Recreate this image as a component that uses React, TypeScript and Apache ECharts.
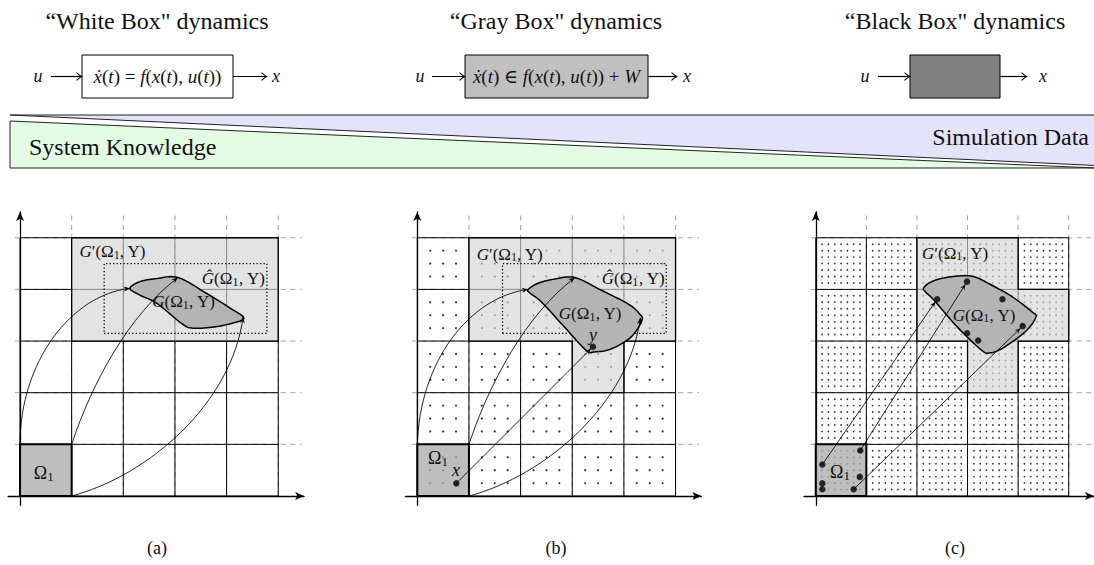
import React, { useEffect, useRef } from 'react';
import * as echarts from 'echarts';

const SERIF = '"Liberation Serif", "DejaVu Serif", serif';

// ---------------- data ----------------
const titles = ['\u201CWhite Box" dynamics', '\u201CGray Box" dynamics', '\u201CBlack Box" dynamics'];
const formulas = [
  '{i|ẋ}({i|t}) = {i|f}({i|x}({i|t}), {i|u}({i|t}))',
  '{i|ẋ}({i|t}) ∈ {i|f}({i|x}({i|t}), {i|u}({i|t})) + {i|W}',
  '',
];
const boxFills = ['#ffffff', '#c0c0c0', '#808080'];
const captions = ['(a)', '(b)', '(c)'];
const bandLabels = ['System Knowledge', 'Simulation Data'];

const gridLineIdx = [0, 1, 2, 3, 4, 5];
const dashLineIdx = [1, 2, 3, 4, 5];
const samplesPerCell = [0, 4, 8];

const gPrimeRegions = [
  [[1, 3], [5, 3], [5, 5], [1, 5]],
  [[1, 3], [3, 3], [3, 2], [4, 2], [4, 3], [5, 3], [5, 5], [1, 5]],
  [[2, 3], [3, 3], [3, 2], [4, 2], [4, 3], [5, 3], [5, 4], [4, 4], [4, 5], [2, 5]],
];
const omegaCell = [[0, 0], [1, 0], [1, 1], [0, 1]];
const gHatRects = [[1.63, 3.15, 4.78, 4.5], [1.65, 3.15, 4.82, 4.5], null];

const blobA = [[2.13, 4.02], [2.32, 4.15], [2.65, 4.21], [3.06, 4.23], [3.6, 3.93], [4.13, 3.6], [4.32, 3.47], [4.26, 3.39], [3.81, 3.28], [3.35, 3.25], [3.13, 3.34], [2.65, 3.73], [2.32, 3.89]];
const blobB = [[2.15, 4.0], [2.34, 4.12], [2.66, 4.2], [3.05, 4.23], [3.55, 3.99], [4.08, 3.72], [4.3, 3.53], [4.35, 3.4], [4.14, 3.08], [3.76, 2.85], [3.43, 2.79], [3.27, 2.82], [2.85, 3.27], [2.4, 3.76], [2.18, 3.93]];
const blobC = [[2.14, 4.04], [2.34, 4.17], [2.72, 4.25], [3.11, 4.25], [3.5, 4.07], [3.88, 3.86], [4.27, 3.57], [4.35, 3.46], [4.14, 3.18], [3.69, 2.86], [3.43, 2.77], [3.27, 2.83], [2.79, 3.28], [2.34, 3.79], [2.17, 3.95]];
const blobs = [blobA, blobB, blobC];

// cubic arrows: start, control 1, control 2, end
const curvedArrows = [
  [[0, 1, 0, 2.6, 1.0, 3.9, 2.13, 4.02], [1, 1, 1.4, 2.2, 2.1, 3.5, 3.06, 4.23], [1, 0, 2.5, 0.4, 4.1, 1.8, 4.32, 3.47]],
  [[0, 1, 0.05, 2.6, 1.0, 3.85, 2.15, 4.0], [1, 1, 1.4, 2.2, 2.1, 3.5, 3.05, 4.23], [1, 0, 2.5, 0.4, 4.1, 1.8, 4.32, 3.45]],
  [],
];
const straightArrows = [
  [],
  [[0.755, 0.245, 3.4, 2.89]],
  [[0.13, 0.61, 2.4, 3.81], [0.88, 0.88, 2.99, 4.15], [0.75, 0.13, 4.09, 3.29]],
];
const samplePoints = [
  [],
  [[0.755, 0.245], [3.4, 2.89]],
  [[0.13, 0.61], [0.13, 0.245], [0.13, 0.13], [0.88, 0.88], [0.87, 0.37], [0.75, 0.13], [2.4, 3.81], [2.99, 4.15], [3.69, 3.81], [4.09, 3.29], [2.99, 3.15], [3.21, 3.01]],
];

const labelTexts: Record<string, string> = {
  gPrime: '{i|G}′(Ω{s|1}, Y)',
  gHat: '{i|Ĝ}(Ω{s|1}, Y)',
  g: '{i|G}(Ω{s|1}, Y)',
  omega: 'Ω{s|1}',
  x: '{i|x}',
  y: '{i|y}',
};
const panelLabels: [string, number, number, string][][] = [
  [['gPrime', 1.15, 4.73, 'left'], ['gHat', 4.74, 4.21, 'right'], ['g', 3.17, 3.76, 'center'], ['omega', 0.46, 0.44, 'center']],
  [['gPrime', 1.15, 4.68, 'left'], ['gHat', 4.79, 4.21, 'right'], ['g', 3.35, 3.53, 'center'], ['omega', 0.4, 0.73, 'center'], ['x', 0.75, 0.5, 'center'], ['y', 3.4, 3.12, 'center']],
  [['gPrime', 2.1, 4.7, 'left'], ['g', 3.33, 3.5, 'center'], ['omega', 0.48, 0.46, 'center']],
];

// ---------------- layout ----------------
const W = 1094;
const H = 565;
const CELL = 51.65;
const PANEL_X0 = [20, 417.3, 816];
const PANEL_Y0 = 496;
const X_RANGE = [-0.23, 5.5];
const Y_RANGE = [-0.18, 5.5];
const DASH_LEFT = -0.1;
const DASH_END = 5.45;
const COL_CENTER = [157, 556, 955];
const BOX_X = [[82, 233], [465, 648], [910, 1000]];
const BOX_Y = [55, 98];
const IO_X = [[38, 51, 267, 276], [420, 432, 677, 687], [865, 878, 1027, 1043]];

function catmullRom(pts: number[][], steps = 10): number[][] {
  const n = pts.length;
  const out: number[][] = [];
  for (let i = 0; i < n; i++) {
    const p0 = pts[(i - 1 + n) % n], p1 = pts[i], p2 = pts[(i + 1) % n], p3 = pts[(i + 2) % n];
    for (let s = 0; s < steps; s++) {
      const t = s / steps, t2 = t * t, t3 = t2 * t;
      const f = (k: number) => 0.5 * (2 * p1[k] + (-p0[k] + p2[k]) * t + (2 * p0[k] - 5 * p1[k] + 4 * p2[k] - p3[k]) * t2 + (-p0[k] + 3 * p1[k] - 3 * p2[k] + p3[k]) * t3);
      out.push([f(0), f(1)]);
    }
  }
  return out;
}

function arrowHead(tip: number[], from: number[], len = 6.5, w = 2.6) {
  const dx = tip[0] - from[0], dy = tip[1] - from[1];
  const L = Math.hypot(dx, dy) || 1;
  const ux = dx / L, uy = dy / L, nx = -uy, ny = ux;
  return {
    type: 'polygon',
    shape: {
      points: [
        [tip[0], tip[1]],
        [tip[0] - ux * len + nx * w, tip[1] - uy * len + ny * w],
        [tip[0] - ux * len * 0.65, tip[1] - uy * len * 0.65],
        [tip[0] - ux * len - nx * w, tip[1] - uy * len - ny * w],
      ],
    },
    style: { fill: '#000', stroke: null },
  };
}

function textStyle(text: string, size: number, align: string, lhFactor = 1.25) {
  const lh = Math.round(size * lhFactor);
  const sub = Math.round(size * 0.7);
  return {
    text,
    fontSize: size,
    fontFamily: SERIF,
    fontStyle: 'normal',
    lineHeight: lh,
    fill: '#111',
    align,
    verticalAlign: 'middle',
    textAlign: align,
    textVerticalAlign: 'middle',
    rich: {
      i: { fontSize: size, fontFamily: SERIF, fontStyle: 'italic', fill: '#111', lineHeight: lh },
      s: { fontSize: sub, fontFamily: SERIF, fill: '#111', lineHeight: sub, verticalAlign: 'bottom' },
    },
  };
}

function shapeSeries(p: number, z: number, draw: (api: any) => any) {
  return {
    type: 'custom',
    xAxisIndex: p,
    yAxisIndex: p,
    z,
    silent: true,
    clip: false,
    data: [[0, 0]],
    renderItem: (_: any, api: any) => draw(api),
  };
}

function lattice(n: number) {
  const pts: number[][] = [];
  const last = gridLineIdx[gridLineIdx.length - 1] * n;
  for (let i = 1; i < last; i++) {
    if (i % n === 0) continue;
    for (let j = 1; j < last; j++) {
      if (j % n === 0) continue;
      pts.push([i / n, j / n]);
    }
  }
  return pts;
}

function buildOption() {
  const series: any[] = [];
  [0, 1, 2].forEach((p) => {
    if (samplesPerCell[p]) {
      series.push({
        type: 'scatter', xAxisIndex: p, yAxisIndex: p, z: 1, silent: true,
        data: lattice(samplesPerCell[p]), symbol: 'circle',
        symbolSize: p === 1 ? 2.2 : 1.7, itemStyle: { color: '#000' },
      });
    }
    // dashed extension grid
    series.push(shapeSeries(p, 2, (api) => {
      const children: any[] = [];
      dashLineIdx.forEach((k) => {
        const a = api.coord([k, 0]), b = api.coord([k, DASH_END]);
        children.push({ type: 'line', shape: { x1: a[0], y1: a[1], x2: b[0], y2: b[1] }, style: { stroke: '#8c8c8c', lineWidth: 0.8, lineDash: [5, 4.5] } });
        const c = api.coord([DASH_LEFT, k]), d = api.coord([DASH_END, k]);
        children.push({ type: 'line', shape: { x1: c[0], y1: c[1], x2: d[0], y2: d[1] }, style: { stroke: '#8c8c8c', lineWidth: 0.8, lineDash: [5, 4.5] } });
      });
      return { type: 'group', children };
    }));
    // solid grid
    series.push(shapeSeries(p, 3, (api) => {
      const children: any[] = [];
      const lo = gridLineIdx[0], hi = gridLineIdx[gridLineIdx.length - 1];
      gridLineIdx.forEach((k) => {
        const a = api.coord([k, lo]), b = api.coord([k, hi]);
        children.push({ type: 'line', shape: { x1: a[0], y1: a[1], x2: b[0], y2: b[1] }, style: { stroke: '#000', lineWidth: 1 } });
        const c = api.coord([lo, k]), d = api.coord([hi, k]);
        children.push({ type: 'line', shape: { x1: c[0], y1: c[1], x2: d[0], y2: d[1] }, style: { stroke: '#000', lineWidth: 1 } });
      });
      return { type: 'group', children };
    }));
    // G' region
    series.push(shapeSeries(p, 4, (api) => ({
      type: 'polygon',
      shape: { points: gPrimeRegions[p].map((q) => api.coord(q)) },
      style: { fill: 'rgba(212,212,212,0.66)', stroke: '#000', lineWidth: 1.3 },
    })));
    // Omega_1 cell
    series.push(shapeSeries(p, 5, (api) => ({
      type: 'polygon',
      shape: { points: omegaCell.map((q) => api.coord(q)) },
      style: { fill: 'rgba(172,172,172,0.78)', stroke: '#000', lineWidth: 2 },
    })));
    // G-hat rectangle
    const gh = gHatRects[p];
    if (gh) {
      series.push(shapeSeries(p, 6, (api) => ({
        type: 'polygon',
        shape: { points: [[gh[0], gh[1]], [gh[2], gh[1]], [gh[2], gh[3]], [gh[0], gh[3]]].map((q) => api.coord(q)) },
        style: { fill: null, stroke: '#000', lineWidth: 1.3, lineDash: [1.3, 2.2] },
      })));
    }
    // reachable set blob
    series.push(shapeSeries(p, 7, (api) => ({
      type: 'polygon',
      shape: { points: catmullRom(blobs[p].map((q) => api.coord(q))) },
      style: { fill: '#b4b4b4', stroke: '#000', lineWidth: 1.5 },
    })));
    // arrows
    series.push(shapeSeries(p, 8, (api) => {
      const children: any[] = [];
      curvedArrows[p].forEach((a) => {
        const p0 = api.coord([a[0], a[1]]), c1 = api.coord([a[2], a[3]]), c2 = api.coord([a[4], a[5]]), p1 = api.coord([a[6], a[7]]);
        children.push({
          type: 'bezierCurve',
          shape: { x1: p0[0], y1: p0[1], cpx1: c1[0], cpy1: c1[1], cpx2: c2[0], cpy2: c2[1], x2: p1[0], y2: p1[1] },
          style: { stroke: '#000', lineWidth: 0.85, fill: null },
        });
        children.push(arrowHead(p1, c2));
      });
      straightArrows[p].forEach((a) => {
        const p0 = api.coord([a[0], a[1]]), p1 = api.coord([a[2], a[3]]);
        const dx = p1[0] - p0[0], dy = p1[1] - p0[1], L = Math.hypot(dx, dy);
        const tip = [p1[0] - (dx / L) * 3, p1[1] - (dy / L) * 3];
        children.push({ type: 'line', shape: { x1: p0[0], y1: p0[1], x2: tip[0], y2: tip[1] }, style: { stroke: '#000', lineWidth: 0.85 } });
        children.push(arrowHead(tip, p0, 6, 2.4));
      });
      return { type: 'group', children };
    }));
    if (samplePoints[p].length) {
      series.push({
        type: 'scatter', xAxisIndex: p, yAxisIndex: p, z: 9, silent: true,
        data: samplePoints[p], symbol: 'circle', symbolSize: 6.5, itemStyle: { color: '#000' },
      });
    }
    // labels
    series.push(shapeSeries(p, 10, (api) => ({
      type: 'group',
      children: panelLabels[p].map(([key, x, y, align]) => {
        const pt = api.coord([x, y]);
        const size = key === 'x' || key === 'y' || key === 'omega' ? 18 : 17;
        return { type: 'text', x: pt[0], y: pt[1], style: textStyle(labelTexts[key], size, align, 1.05) };
      }),
    })));
  });

  // ------------- header graphics -------------
  const graphic: any[] = [];
  titles.forEach((t, i) => {
    graphic.push({ type: 'text', x: COL_CENTER[i], y: 21, style: textStyle(t, 24, 'center') });
  });
  BOX_X.forEach(([x0, x1], i) => {
    graphic.push({ type: 'rect', shape: { x: x0, y: BOX_Y[0], width: x1 - x0, height: BOX_Y[1] - BOX_Y[0] }, style: { fill: boxFills[i], stroke: '#000', lineWidth: 1 } });
    if (formulas[i]) {
      graphic.push({ type: 'text', x: (x0 + x1) / 2, y: (BOX_Y[0] + BOX_Y[1]) / 2, style: textStyle(formulas[i], 19, 'center') });
    }
    const yc = (BOX_Y[0] + BOX_Y[1]) / 2;
    const io = IO_X[i];
    graphic.push({ type: 'text', x: io[0], y: yc - 1, style: textStyle('{i|u}', 18, 'center') });
    graphic.push({ type: 'text', x: io[3], y: yc - 1, style: textStyle('{i|x}', 18, 'center') });
    [[io[1], x0], [x1, io[2]]].forEach(([a, b]) => {
      graphic.push({ type: 'line', shape: { x1: a, y1: yc, x2: b - 0.5, y2: yc }, style: { stroke: '#000', lineWidth: 1.2 } });
      graphic.push({ type: 'polyline', shape: { points: [[b - 5.5, yc - 3.8], [b - 1.5, yc - 0.6], [b, yc], [b - 1.5, yc + 0.6], [b - 5.5, yc + 3.8]], smooth: 0.3 }, style: { stroke: '#000', lineWidth: 1.1, fill: null } });
    });
  });
  // knowledge / data band
  graphic.push({ type: 'polygon', shape: { points: [[10, 115], [W + 2, 115], [W + 2, 165.5]] }, style: { fill: '#e3e3fa', stroke: '#222', lineWidth: 1 } });
  graphic.push({ type: 'polygon', shape: { points: [[10, 121], [10, 168], [W + 2, 168]] }, style: { fill: '#e3fae3', stroke: '#222', lineWidth: 1 } });
  graphic.push({ type: 'text', x: 29, y: 147, style: textStyle(bandLabels[0], 24, 'left') });
  graphic.push({ type: 'text', x: 1089, y: 137, style: textStyle(bandLabels[1], 24, 'right') });
  captions.forEach((c, i) => {
    graphic.push({ type: 'text', x: COL_CENTER[i], y: 548, style: textStyle(c, 18, 'center') });
  });

  return {
    animation: false,
    backgroundColor: '#ffffff',
    grid: PANEL_X0.map((x0) => ({
      left: x0 + X_RANGE[0] * CELL,
      top: PANEL_Y0 - Y_RANGE[1] * CELL,
      width: (X_RANGE[1] - X_RANGE[0]) * CELL,
      height: (Y_RANGE[1] - Y_RANGE[0]) * CELL,
    })),
    xAxis: [0, 1, 2].map((i) => ({
      type: 'value', gridIndex: i, min: X_RANGE[0], max: X_RANGE[1],
      axisLine: { show: true, onZero: true, symbol: ['none', 'arrow'], symbolSize: [6, 9], lineStyle: { color: '#000', width: 1.3 } },
      axisTick: { show: false }, axisLabel: { show: false }, splitLine: { show: false },
    })),
    yAxis: [0, 1, 2].map((i) => ({
      type: 'value', gridIndex: i, min: Y_RANGE[0], max: Y_RANGE[1],
      axisLine: { show: true, onZero: true, symbol: ['none', 'arrow'], symbolSize: [6, 9], lineStyle: { color: '#000', width: 1.3 } },
      axisTick: { show: false }, axisLabel: { show: false }, splitLine: { show: false },
    })),
    series,
    graphic,
  };
}

export default function App() {
  const ref = useRef<HTMLDivElement>(null);
  useEffect(() => {
    const chart = echarts.init(ref.current!, undefined, { renderer: 'svg', width: W, height: H });
    chart.setOption(buildOption() as any);
    return () => chart.dispose();
  }, []);
  return <div ref={ref} style={{ position: 'absolute', left: 0, top: 0, width: W, height: H, background: '#fff' }} />;
}
